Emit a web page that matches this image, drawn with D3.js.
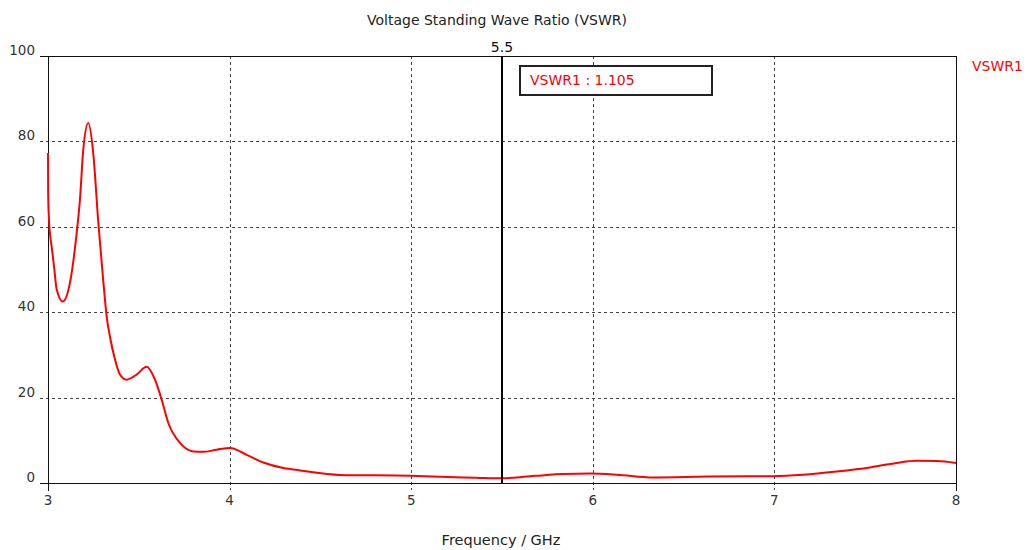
<!DOCTYPE html>
<html>
<head>
<meta charset="utf-8">
<script src="https://cdn.jsdelivr.net/npm/d3@7"></script>
<style>
  body { margin: 0; background: #fff; }
  text { font-family: "DejaVu Sans", sans-serif; }
</style>
</head>
<body>
<svg id="chart" width="1030" height="550"></svg>
<script>
// VSWR curve (frequency in GHz, VSWR)
const freq = [3.0, 3.001, 3.005, 3.012, 3.02, 3.034, 3.048, 3.081, 3.121, 3.158, 3.176, 3.194, 3.222,
  3.249, 3.277, 3.305, 3.323, 3.341, 3.369, 3.396, 3.433, 3.488, 3.543, 3.589, 3.626, 3.662,
  3.727, 3.8, 3.855, 3.929, 4.002, 4.094, 4.186, 4.296, 4.388, 4.608, 4.993, 5.287, 5.376,
  5.5, 5.636, 5.746, 5.836, 5.985, 6.132, 6.333, 6.627, 6.992, 7.159, 7.343, 7.526, 7.673,
  7.783, 7.894, 8.0];
const vswr = [77.3, 67.5, 62, 58, 55.4, 50.4, 45.3, 42.5, 46.9, 58.6, 66.4, 78, 84.3,
  77.3, 61, 47, 39, 34.3, 28.9, 25.4, 24.2, 25.4, 27.2, 24.2, 19.5, 14.1,
  9.4, 7.4, 7.3, 7.8, 8.2, 6.6, 4.8, 3.5, 2.95, 1.9, 1.7, 1.3, 1.2,
  1.105, 1.5, 1.9, 2.1, 2.2, 1.95, 1.3, 1.5, 1.6, 1.95, 2.7, 3.65, 4.7,
  5.2, 5.15, 4.7];
const xTicks = [3, 4, 5, 6, 7, 8];
const yTicks = [0, 20, 40, 60, 80, 100];
const seriesName = "VSWR1";
const markerFreq = 5.5;
const markerValue = 1.105;

const svg = d3.select("#chart");
const pLeft = 48, pRight = 956, pTop = 56, pBottom = 483;

const x = d3.scaleLinear().domain([3, 8]).range([pLeft, pRight]);
const y = d3.scaleLinear().domain([0, 100]).range([pBottom, pTop]);

// grid lines (dashed), they run a little past the axes as ticks
svg.append("g")
  .selectAll("line")
  .data(xTicks.filter(d => d > 3 && d < 8))
  .join("line")
  .attr("x1", d => Math.round(x(d)) + 0.5)
  .attr("x2", d => Math.round(x(d)) + 0.5)
  .attr("y1", pTop)
  .attr("y2", pBottom + 7)
  .attr("stroke", "#444")
  .attr("stroke-dasharray", "3,3");

svg.append("g")
  .selectAll("line")
  .data(yTicks.filter(d => d > 0 && d < 100))
  .join("line")
  .attr("x1", pLeft - 8)
  .attr("x2", pRight)
  .attr("y1", d => Math.round(y(d)) + 0.5)
  .attr("y2", d => Math.round(y(d)) + 0.5)
  .attr("stroke", "#444")
  .attr("stroke-dasharray", "3,3");

// frame
svg.append("rect")
  .attr("x", pLeft + 0.5)
  .attr("y", pTop + 0.5)
  .attr("width", pRight - pLeft)
  .attr("height", pBottom - pTop)
  .attr("fill", "none")
  .attr("stroke", "#111");

// solid ticks at the corners
svg.append("line").attr("x1", pLeft + 0.5).attr("x2", pLeft + 0.5)
  .attr("y1", pBottom).attr("y2", pBottom + 8).attr("stroke", "#111");
svg.append("line").attr("x1", pRight + 0.5).attr("x2", pRight + 0.5)
  .attr("y1", pBottom).attr("y2", pBottom + 8).attr("stroke", "#111");
svg.append("line").attr("x1", pLeft - 8).attr("x2", pLeft)
  .attr("y1", pBottom + 0.5).attr("y2", pBottom + 0.5).attr("stroke", "#111");
svg.append("line").attr("x1", pLeft - 8).attr("x2", pLeft)
  .attr("y1", pTop + 0.5).attr("y2", pTop + 0.5).attr("stroke", "#111");

// tick labels
svg.append("g")
  .selectAll("text")
  .data(xTicks)
  .join("text")
  .attr("x", d => x(d))
  .attr("y", pBottom + 22)
  .attr("text-anchor", "middle")
  .attr("font-size", 13.5)
  .attr("fill", "#333")
  .text(d => d);

svg.append("g")
  .selectAll("text")
  .data(yTicks)
  .join("text")
  .attr("x", 35)
  .attr("y", d => y(d))
  .attr("dy", "-1")
  .attr("text-anchor", "end")
  .attr("font-size", 13.5)
  .attr("fill", "#333")
  .text(d => d);

// titles
svg.append("text")
  .attr("x", 497)
  .attr("y", 25)
  .attr("text-anchor", "middle")
  .attr("font-size", 14)
  .attr("fill", "#222")
  .text("Voltage Standing Wave Ratio (VSWR)");

svg.append("text")
  .attr("x", 501)
  .attr("y", 545)
  .attr("text-anchor", "middle")
  .attr("font-size", 14.5)
  .attr("fill", "#222")
  .text("Frequency / GHz");

// curve
const data = freq.map((f, i) => ({ f, v: vswr[i] }));
const line = d3.line()
  .x(d => x(d.f))
  .y(d => y(d.v))
  .curve(d3.curveMonotoneX);

svg.append("path")
  .datum(data)
  .attr("d", line)
  .attr("fill", "none")
  .attr("stroke", "#ff0000")
  .attr("stroke-width", 2);

// marker
svg.append("line")
  .attr("x1", x(markerFreq))
  .attr("x2", x(markerFreq))
  .attr("y1", pTop)
  .attr("y2", pBottom)
  .attr("stroke", "#000")
  .attr("stroke-width", 2);

svg.append("text")
  .attr("x", x(markerFreq))
  .attr("y", 52)
  .attr("text-anchor", "middle")
  .attr("font-size", 14)
  .attr("fill", "#111")
  .text(markerFreq);

svg.append("rect")
  .attr("x", 520)
  .attr("y", 66)
  .attr("width", 192)
  .attr("height", 29)
  .attr("fill", "#fff")
  .attr("stroke", "#222")
  .attr("stroke-width", 2);

svg.append("text")
  .attr("x", 530)
  .attr("y", 85)
  .attr("font-size", 14)
  .attr("fill", "#ff0000")
  .text(`${seriesName} : ${markerValue}`);

// legend
svg.append("text")
  .attr("x", 972)
  .attr("y", 71)
  .attr("font-size", 14)
  .attr("fill", "#ff0000")
  .text(seriesName);
</script>
</body>
</html>
